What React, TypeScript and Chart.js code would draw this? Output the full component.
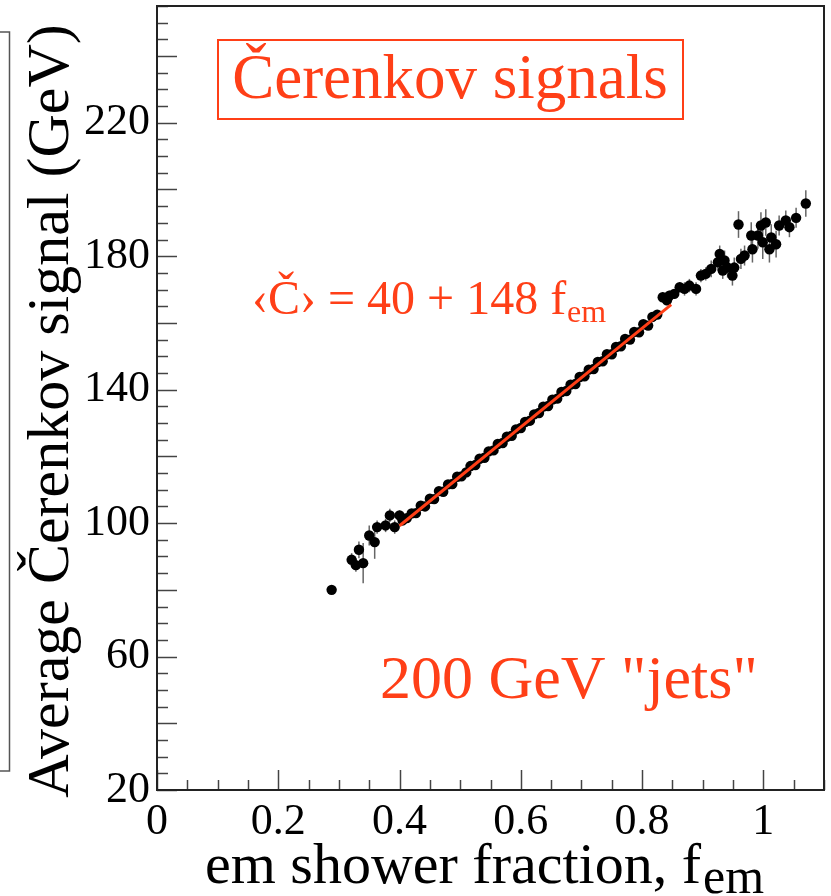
import React, { useEffect, useRef } from 'react';
import { Chart, registerables } from 'chart.js';

Chart.register(...registerables);

// ---- data ----
const xValues = [
  0.288, 0.321, 0.328, 0.333, 0.340, 0.350, 0.359, 0.363, 0.377, 0.384, 0.392, 0.400,
  0.405, 0.412, 0.420, 0.427, 0.435, 0.442, 0.450, 0.457, 0.465, 0.472, 0.480, 0.487,
  0.495, 0.502, 0.510, 0.517, 0.525, 0.532, 0.540, 0.547, 0.555, 0.562, 0.570, 0.577,
  0.585, 0.592, 0.600, 0.607, 0.615, 0.622, 0.630, 0.637, 0.645, 0.652, 0.660, 0.667,
  0.675, 0.682, 0.690, 0.697, 0.705, 0.712, 0.720, 0.727, 0.735, 0.742, 0.750, 0.757,
  0.765, 0.772, 0.780, 0.787, 0.795, 0.802, 0.810, 0.817, 0.825,
  0.834, 0.841, 0.845, 0.853, 0.862, 0.870, 0.878, 0.889, 0.897, 0.905, 0.914, 0.925,
  0.928, 0.933, 0.936, 0.941, 0.949, 0.952, 0.959, 0.963, 0.969, 0.980, 0.982, 0.991,
  0.996, 0.999, 1.004, 1.010, 1.013, 1.021, 1.026, 1.037, 1.043, 1.054, 1.070,
];
const yValues = [
  80.0, 89.0, 87.4, 92.0, 88.0, 96.3, 94.3, 98.8, 99.3, 102.3, 98.8, 102.3,
  100.8, 101.5, 102.9, 103.0, 105.2, 105.0, 107.3, 107.2, 109.6, 109.4, 111.6, 111.7,
  113.9, 114.0, 115.2, 117.1, 117.4, 119.3, 119.6, 121.5, 121.8, 123.7, 124.0, 125.9,
  126.2, 128.1, 128.5, 130.3, 130.7, 132.6, 133.0, 134.9, 135.1, 137.0, 137.3, 139.3,
  139.6, 141.5, 141.7, 143.8, 144.0, 146.0, 146.2, 148.3, 148.5, 150.6, 150.6, 152.8,
  153.0, 155.2, 155.0, 157.3, 157.2, 159.6, 159.2, 161.8, 162.5,
  167.7, 166.8, 168.2, 168.7, 170.7, 170.2, 171.2, 170.2, 174.2, 174.7, 176.2, 178.2,
  180.7, 175.7, 178.7, 176.6, 174.2, 176.6, 189.5, 179.2, 180.2, 186.2, 182.1, 186.2,
  189.2, 184.2, 190.1, 182.1, 185.6, 183.6, 189.2, 190.7, 188.7, 191.5, 195.8,
];
const yErrors = [
  0, 2, 2, 2.5, 6, 3, 5, 2, 2, 2, 2, 1.5,
  1, 1, 1, 1, 1, 1, 1, 1, 1, 1, 1, 1,
  1, 1, 1, 1, 1, 1, 1, 1, 1, 1, 1, 1,
  1, 1, 1, 1, 1, 1, 1, 1, 1, 1, 1, 1,
  1, 1, 1, 1, 1, 1, 1, 1, 1, 1, 1, 1,
  1, 1, 1, 1, 1, 1, 1, 1, 1.2,
  1.5, 1.5, 1.5, 1.5, 1.5, 2, 2, 2, 2, 2, 2.5, 2.5,
  2.5, 2.5, 3, 3, 3, 3, 4, 3, 3, 4, 4, 4,
  4, 5, 4, 4, 4, 4, 3, 3, 3, 3, 4,
];
const fitX = [0.4, 0.848];
const fitY = [99.2, 165.5];

const xTickValues = [0, 0.2, 0.4, 0.6, 0.8, 1.0];
const yTickValues = [20, 60, 100, 140, 180, 220];

const xTitle = 'em shower fraction, f';
const xTitleSub = 'em';
const yTitle = 'Average Čerenkov signal (GeV)';
const boxLabel = 'Čerenkov signals';
const fitLabel = '‹Č› = 40 + 148 f';
const fitLabelSub = 'em';
const energyLabel = '200 GeV "jets"';

const RED = '#ff3f17';
const SERIF = '"Liberation Serif", "Times New Roman", serif';

const decorPlugin = {
  id: 'decor',
  beforeDatasetsDraw(chart: any) {
    const { ctx, scales } = chart;
    const x = scales.x;
    const y = scales.y;
    ctx.save();
    ctx.strokeStyle = '#666';
    ctx.lineWidth = 1.5;
    xValues.forEach((xv, i) => {
      const e = yErrors[i];
      if (!e) return;
      const px = x.getPixelForValue(xv);
      ctx.beginPath();
      ctx.moveTo(px, y.getPixelForValue(yValues[i] - e));
      ctx.lineTo(px, y.getPixelForValue(yValues[i] + e));
      ctx.stroke();
    });
    ctx.restore();
  },
  afterDraw(chart: any) {
    const { ctx, chartArea, scales } = chart;
    const x = scales.x;
    const y = scales.y;
    const { left, right, top, bottom } = chartArea;
    ctx.save();

    // inward tick marks
    ctx.strokeStyle = '#444';
    ctx.lineWidth = 1.5;
    for (let k = 0; k * 5 + 20 <= y.max; k++) {
      const v = 20 + k * 5;
      const py = Math.round(y.getPixelForValue(v)) + 0.5;
      const len = k % 4 === 0 ? 20 : 11;
      ctx.beginPath();
      ctx.moveTo(left, py);
      ctx.lineTo(left + len, py);
      ctx.stroke();
    }
    for (let k = 0; k * 0.05 <= x.max + 1e-9; k++) {
      const v = k * 0.05;
      const px = Math.round(x.getPixelForValue(v)) + 0.5;
      const len = k % 4 === 0 ? 20 : 10;
      ctx.beginPath();
      ctx.moveTo(px, bottom);
      ctx.lineTo(px, bottom - len);
      ctx.stroke();
    }

    // frame
    ctx.strokeStyle = '#222';
    ctx.lineWidth = 2;
    ctx.strokeRect(left, top, right - left, bottom - top);

    // leftover bracket at the far left
    ctx.strokeStyle = '#555';
    ctx.lineWidth = 1.5;
    ctx.beginPath();
    ctx.moveTo(0, 32);
    ctx.lineTo(9.5, 32);
    ctx.lineTo(9.5, 771);
    ctx.lineTo(0, 771);
    ctx.stroke();

    // axis titles
    ctx.fillStyle = '#000';
    ctx.textBaseline = 'alphabetic';
    ctx.textAlign = 'left';
    ctx.font = `58px ${SERIF}`;
    ctx.fillText(xTitle, 205, 883);
    const w = ctx.measureText(xTitle).width;
    ctx.font = `50px ${SERIF}`;
    ctx.fillText(xTitleSub, 205 + w + 2, 893);

    ctx.save();
    ctx.translate(68, 411);
    ctx.rotate(-Math.PI / 2);
    ctx.textAlign = 'center';
    ctx.font = `60px ${SERIF}`;
    ctx.fillText(yTitle, 0, 0);
    ctx.restore();

    // boxed label
    ctx.strokeStyle = RED;
    ctx.lineWidth = 2;
    ctx.strokeRect(218, 40, 465, 79);
    ctx.fillStyle = RED;
    ctx.textAlign = 'center';
    ctx.font = `63px ${SERIF}`;
    ctx.fillText(boxLabel, 450, 98);

    // fit formula
    ctx.textAlign = 'left';
    ctx.font = `48px ${SERIF}`;
    ctx.fillText(fitLabel, 252, 314);
    const fw = ctx.measureText(fitLabel).width;
    ctx.font = `32px ${SERIF}`;
    ctx.fillText(fitLabelSub, 252 + fw + 1, 322);

    // energy label
    ctx.font = `62px ${SERIF}`;
    ctx.fillText(energyLabel, 380, 698);

    ctx.restore();
  },
};

export default function App() {
  const ref = useRef<HTMLCanvasElement | null>(null);

  useEffect(() => {
    document.body.style.margin = '0';
    const canvas = ref.current;
    if (!canvas) return;
    const points = xValues.map((xv, i) => ({ x: xv, y: yValues[i] }));
    const fitPoints = fitX.map((xv, i) => ({ x: xv, y: fitY[i] }));

    const chart = new Chart(canvas, {
      type: 'scatter',
      data: {
        datasets: [
          {
            type: 'line',
            data: fitPoints,
            borderColor: RED,
            borderWidth: 3,
            pointRadius: 0,
            fill: false,
            order: 0,
          } as any,
          {
            data: points,
            backgroundColor: '#000',
            borderColor: '#000',
            pointRadius: 5.2,
            pointBorderWidth: 0,
            order: 1,
          },
        ],
      },
      options: {
        animation: false,
        responsive: false,
        maintainAspectRatio: false,
        devicePixelRatio: 1,
        layout: { padding: { top: 6, right: 7, left: 0, bottom: 0 } },
        plugins: { legend: { display: false }, tooltip: { enabled: false } },
        scales: {
          x: {
            type: 'linear',
            min: 0,
            max: 1.1,
            grid: { display: false, drawTicks: false },
            border: { display: false },
            afterBuildTicks: (s: any) => {
              s.ticks = xTickValues.map((v) => ({ value: v }));
            },
            afterFit: (s: any) => {
              s.height = 106;
              s.paddingLeft = 0;
              s.paddingRight = 0;
            },
            ticks: {
              padding: 6,
              maxRotation: 0,
              autoSkip: false,
              color: '#000',
              font: { family: SERIF, size: 44 },
              callback: (v: any) => String(Number(v)),
            },
          },
          y: {
            type: 'linear',
            min: 20,
            max: 255,
            grid: { display: false, drawTicks: false },
            border: { display: false },
            afterBuildTicks: (s: any) => {
              s.ticks = yTickValues.map((v) => ({ value: v }));
            },
            afterFit: (s: any) => {
              s.width = 157;
              s.paddingTop = 0;
              s.paddingBottom = 0;
            },
            ticks: {
              padding: 7,
              autoSkip: false,
              color: '#000',
              font: { family: SERIF, size: 44 },
              callback: (v: any) => String(Number(v)),
            },
          },
        },
      },
      plugins: [decorPlugin],
    });
    return () => chart.destroy();
  }, []);

  return (
    <div style={{ position: 'absolute', left: 0, top: 0 }}>
      <canvas ref={ref} width={831} height={896} style={{ display: 'block', width: 831, height: 896 }} />
    </div>
  );
}
